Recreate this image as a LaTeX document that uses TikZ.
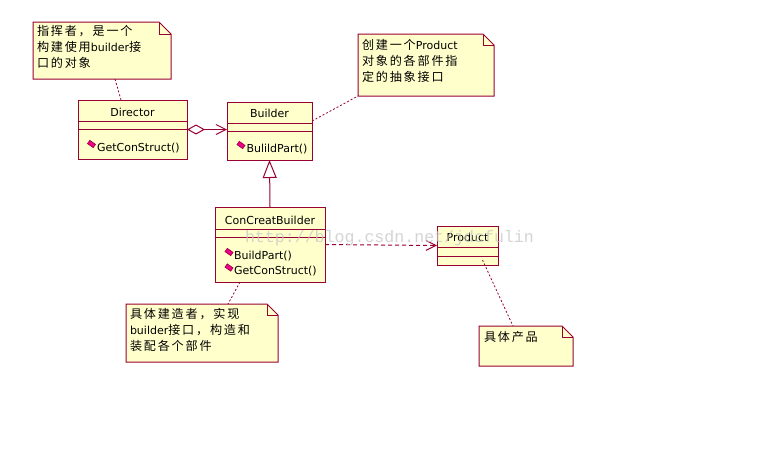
\documentclass[tikz,border=0pt]{standalone}
\usepackage{fontspec}
\setmainfont{DejaVu Sans}
\newfontfamily\cjk[Scale=1.1,LetterSpace=15]{Noto Sans CJK SC}
\newfontfamily\wmfont{Liberation Mono}
\usetikzlibrary{arrows.meta}
\definecolor{umlred}{RGB}{153,0,51}
\definecolor{umlfill}{RGB}{255,255,204}
\begin{document}
\begin{tikzpicture}[x=1pt,y=-1pt,inner sep=0pt,outer sep=0pt,line width=1pt,
font=\fontsize{11}{16}\selectfont,
umlclass/.style={draw=umlred,fill=umlfill,rectangle,line width=1pt},
notebox/.style={rectangle,draw=none},
notedraw/.style={draw=umlred,fill=umlfill,line width=1pt,line join=miter},
notetext/.style={anchor=north west,align=left,inner sep=0pt},
opicon/.style={draw=umlred,fill=magenta,rectangle,minimum width=7pt,minimum height=4pt,line width=0.6pt,rotate=-35},
notelink/.style={draw=umlred,line width=0.8pt,dash pattern=on 2pt off 2pt},
deplink/.style={draw=umlred,line width=1pt,dash pattern=on 4pt off 3pt}]
\useasboundingbox[fill=white] (0,0) rectangle (762,455);
% notes
\node[notebox,minimum width=138pt,minimum height=57pt] (n1) at (102,50.5) {};
\draw[notedraw] (n1.north west) -- ([xshift=-12pt]n1.north east) -- ([yshift=-12pt]n1.north east) -- (n1.south east) -- (n1.south west) -- cycle;
\draw[umlred,line width=0.6pt] ([xshift=-12pt]n1.north east) |- ([yshift=-12pt]n1.north east);
\node[notetext] (t1) at (37,25) {{\cjk 指挥者，是一个}\\{\cjk 构建使用}builder{\cjk 接}\\{\cjk 口的对象}};
\node[notebox,minimum width=136pt,minimum height=62pt] (n2) at (426,65) {};
\draw[notedraw] (n2.north west) -- ([xshift=-11pt]n2.north east) -- ([yshift=-11pt]n2.north east) -- (n2.south east) -- (n2.south west) -- cycle;
\draw[umlred,line width=0.6pt] ([xshift=-11pt]n2.north east) |- ([yshift=-11pt]n2.north east);
\node[notetext] (t2) at (362,39) {{\cjk 创建一个}Product\\{\cjk 对象的各部件指}\\{\cjk 定的抽象接口}};
\node[notebox,minimum width=152pt,minimum height=58pt] (n3) at (202,333) {};
\draw[notedraw] (n3.north west) -- ([xshift=-11pt]n3.north east) -- ([yshift=-11pt]n3.north east) -- (n3.south east) -- (n3.south west) -- cycle;
\draw[umlred,line width=0.6pt] ([xshift=-11pt]n3.north east) |- ([yshift=-11pt]n3.north east);
\node[notetext] (t3) at (130,308.5) {{\cjk 具体建造者，实现}\\builder{\cjk 接口，构造和}\\{\cjk 装配各个部件}};
\node[notebox,minimum width=94pt,minimum height=40pt] (n4) at (526,346) {};
\draw[notedraw] (n4.north west) -- ([xshift=-11pt]n4.north east) -- ([yshift=-11pt]n4.north east) -- (n4.south east) -- (n4.south west) -- cycle;
\draw[umlred,line width=0.6pt] ([xshift=-11pt]n4.north east) |- ([yshift=-11pt]n4.north east);
\node[notetext] (t4) at (484,331.5) {{\cjk 具体产品}};
% classes
\node[umlclass,minimum width=109pt,minimum height=59pt] (dir) at (132.5,129.5) {};
\draw[umlred] ([yshift=-21pt]dir.north west) -- ([yshift=-21pt]dir.north east);
\draw[umlred] ([yshift=-29pt]dir.north west) -- ([yshift=-29pt]dir.north east);
\node (dirname) at (132.5,112) {Director};
\node[opicon] (dirico) at (91.5,144) {};
\node[anchor=west] (dirop) at (97,148) {GetConStruct()};
\node[umlclass,minimum width=85pt,minimum height=58pt] (bld) at (269.5,131) {};
\draw[umlred] ([yshift=-21pt]bld.north west) -- ([yshift=-21pt]bld.north east);
\draw[umlred] ([yshift=-29pt]bld.north west) -- ([yshift=-29pt]bld.north east);
\node (bldname) at (269.5,113) {Builder};
\node[opicon] (bldico) at (241,145) {};
\node[anchor=west] (bldop) at (246.5,149.5) {BulildPart()};
\node[umlclass,minimum width=110pt,minimum height=75pt] (ccb) at (270,244.5) {};
\draw[umlred] ([yshift=-22pt]ccb.north west) -- ([yshift=-22pt]ccb.north east);
\draw[umlred] ([yshift=-30pt]ccb.north west) -- ([yshift=-30pt]ccb.north east);
\node (ccbname) at (270,220) {ConCreatBuilder};
\node[opicon] (ccbico1) at (229,252) {};
\node[anchor=west] (ccbop1) at (234,256) {BuildPart()};
\node[opicon] (ccbico2) at (229,267.5) {};
\node[anchor=west] (ccbop2) at (234,271.5) {GetConStruct()};
\node[umlclass,minimum width=61pt,minimum height=39pt] (prod) at (467.5,245.5) {};
\draw[umlred] ([yshift=-21pt]prod.north west) -- ([yshift=-21pt]prod.north east);
\draw[umlred] ([yshift=-30pt]prod.north west) -- ([yshift=-30pt]prod.north east);
\node (prodname) at (467.5,237.5) {Product};
% relations
\draw[umlred,{Diamond[open,fill=white,length=18pt,width=10pt]}-{Straight Barb[length=10pt,width=10pt]}] (dir.east) -- (dir.east -| bld.west);
\draw[umlred,-{Triangle[open,fill=white,length=18pt,width=14pt]}] (ccb.north) -- (bld.south);
\draw[deplink,-{Straight Barb[length=10pt,width=10pt]}] (ccb.east) -- (prod.west);
\draw[notelink] ([xshift=13pt]n1.south) -- ([xshift=-11.5pt]dir.north);
\draw[notelink] ([yshift=-19pt]bld.north east) -- (n2.south west);
\draw[notelink] ([xshift=-30pt]ccb.south) -- ([xshift=26pt]n3.north);
\draw[notelink] ([yshift=5pt,xshift=15pt]prod.south) -- ([xshift=-13pt]n4.north);
% watermark
\node[font=\wmfont\fontsize{16.6}{18}\selectfont,text=gray!45,opacity=0.75,anchor=west] (wm) at (245,238) {http://blog.csdn.net/jdcfulin};
\end{tikzpicture}
\end{document}
